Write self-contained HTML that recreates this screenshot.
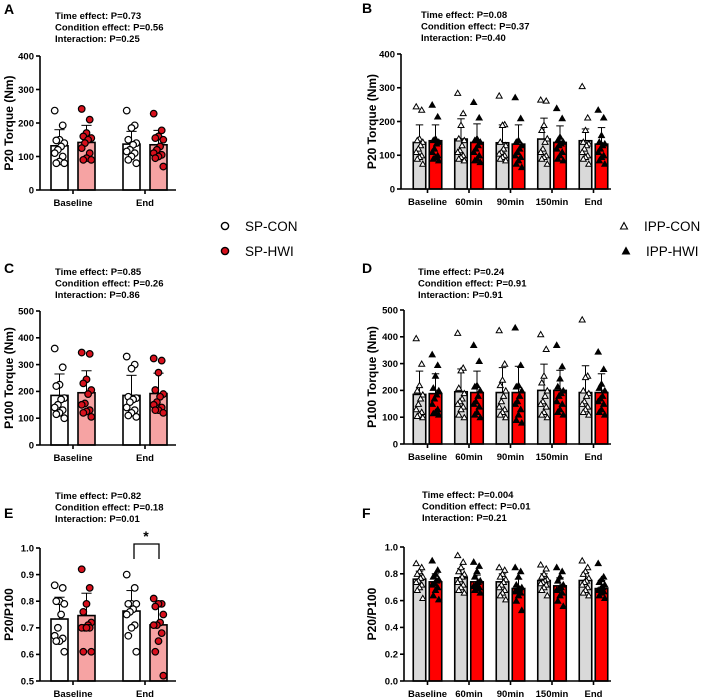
<!DOCTYPE html>
<html><head><meta charset="utf-8">
<style>
html,body{margin:0;padding:0;background:#fff;}
svg{display:block;font-family:"Liberation Sans",Arial,sans-serif;}
</style></head>
<body>
<svg id="fig" width="708" height="699" viewBox="0 0 708 699" xmlns="http://www.w3.org/2000/svg"></svg>
<script>
// ---------- DATA ----------
const catsSP = ["Baseline","End"];
const catsIPP = ["Baseline","60min","90min","150min","End"];

// Panel A: P20 torque, SP
const aMeansCon = [132,137];
const aSdCon = [48,38];
const aMeansHwi = [142,135];
const aSdHwi = [51,43];
const aPtsCon = [[237,193,150,148,140,130,120,110,100,85,80,80],[237,193,185,150,140,135,120,115,110,100,90,80]];
const aPtsHwi = [[242,210,170,160,155,150,140,125,110,95,90,90],[228,178,160,155,150,130,120,110,105,100,95,70]];

// Panel C: P100 torque, SP
const cMeansCon = [185,185];
const cSdCon = [80,75];
const cMeansHwi = [195,192];
const cSdHwi = [82,76];
const cPtsCon = [[360,290,225,220,175,170,150,140,130,120,115,100],[330,300,285,180,175,170,160,140,130,120,110,105]];
const cPtsHwi = [[345,340,245,230,205,190,155,150,130,125,120,105],[323,315,270,205,190,180,160,150,140,130,130,120]];

// Panel E: P20/P100, SP
const eMeansCon = [0.733,0.763];
const eSdCon = [0.082,0.077];
const eMeansHwi = [0.746,0.711];
const eSdHwi = [0.084,0.079];
const ePtsCon = [[0.86,0.85,0.80,0.80,0.79,0.75,0.70,0.67,0.66,0.65,0.65,0.61],[0.90,0.85,0.79,0.79,0.79,0.77,0.76,0.75,0.71,0.70,0.67,0.61]];
const ePtsHwi = [[0.92,0.85,0.79,0.76,0.72,0.71,0.70,0.70,0.70,0.70,0.61,0.61],[0.81,0.79,0.79,0.78,0.75,0.72,0.71,0.71,0.68,0.65,0.61,0.52]];

// Panel B: P20 torque, IPP
const bMeansCon = [138,148,137,148,143];
const bSdCon = [52,60,53,62,35];
const bMeansHwi = [143,138,133,138,133];
const bSdHwi = [47,55,57,49,49];
const bPtsCon = [[245,235,150,145,140,130,120,110,100,95,90,75],[285,225,190,150,145,130,115,110,100,95,90,85],[277,192,190,140,130,120,110,105,100,95,90,85],[265,262,190,175,150,140,120,110,100,95,90,75],[305,212,175,140,135,130,120,110,100,95,90,75]];
const bPtsHwi = [[250,215,150,145,140,135,120,110,100,95,90,85],[258,212,150,145,140,130,120,110,100,90,85,80],[272,210,145,140,130,120,110,100,95,85,75,65],[240,210,155,145,140,135,130,120,110,100,90,85],[235,212,160,140,135,130,120,110,100,95,85,75]];

// Panel D: P100 torque, IPP
const dMeansCon = [185,195,192,200,192];
const dSdCon = [87,85,93,98,100];
const dMeansHwi = [188,192,192,200,192];
const dSdHwi = [74,80,98,75,70];
const dPtsCon = [[395,300,220,200,185,170,150,130,120,110,105,100],[415,285,275,210,190,170,160,150,140,130,110,100],[425,300,240,220,200,180,160,140,130,120,110,100],[410,355,255,230,200,180,160,150,140,120,110,100],[465,255,250,200,190,180,160,150,140,130,120,110]];
const dPtsHwi = [[335,295,255,210,200,185,170,150,130,120,115,110],[370,310,220,215,200,180,160,150,140,120,110,100],[435,295,220,215,200,180,160,150,130,110,90,80],[370,290,245,215,200,190,180,160,150,130,120,110],[345,280,225,210,200,180,170,160,150,130,120,110]];

// Panel F: P20/P100, IPP
const fMeansCon = [0.76,0.77,0.74,0.75,0.75];
const fSdCon = [0.06,0.07,0.06,0.05,0.06];
const fMeansHwi = [0.74,0.74,0.69,0.71,0.69];
const fSdHwi = [0.06,0.05,0.07,0.06,0.06];
const fPtsCon = [[0.88,0.85,0.82,0.80,0.78,0.77,0.75,0.74,0.72,0.70,0.68,0.62],[0.94,0.89,0.85,0.82,0.80,0.78,0.76,0.74,0.72,0.70,0.68,0.66],[0.85,0.83,0.80,0.78,0.76,0.74,0.72,0.70,0.68,0.66,0.64,0.61],[0.87,0.84,0.80,0.78,0.76,0.75,0.74,0.73,0.72,0.70,0.68,0.64],[0.90,0.85,0.82,0.80,0.77,0.75,0.74,0.72,0.70,0.68,0.66,0.64]];
const fPtsHwi = [[0.90,0.83,0.80,0.78,0.76,0.75,0.73,0.72,0.70,0.68,0.64,0.61],[0.89,0.86,0.82,0.78,0.75,0.74,0.72,0.71,0.70,0.69,0.68,0.66],[0.85,0.82,0.78,0.72,0.70,0.69,0.68,0.67,0.66,0.64,0.60,0.53],[0.85,0.82,0.78,0.75,0.72,0.70,0.69,0.68,0.66,0.64,0.60,0.56],[0.88,0.78,0.76,0.74,0.72,0.70,0.69,0.68,0.67,0.66,0.64,0.62]];

const ticksA = [0,100,200,300,400];
const ticksC = [0,100,200,300,400,500];
const ticksE = [0.5,0.6,0.7,0.8,0.9,1.0];
const ticksF = [0.0,0.2,0.4,0.6,0.8,1.0];

// ---------- DRAWING ----------
const NS = "http://www.w3.org/2000/svg";
const svg = document.getElementById("fig");
function mk(tag, attrs, parent){
  const e = document.createElementNS(NS, tag);
  for (const k in attrs) e.setAttribute(k, attrs[k]);
  (parent||svg).appendChild(e);
  return e;
}
function txt(s, x, y, attrs, parent){
  const e = mk("text", Object.assign({x:x,y:y}, attrs), parent);
  e.textContent = s;
  return e;
}

function drawPanel(o){
  const g = mk("g", {});
  
  
  const yS = v => o.yBot - (v - o.vmin) / (o.vmax - o.vmin) * (o.yBot - o.yTop);
  const xC = i => o.c0 + i * o.step;
  // letter
  const L = txt(o.id.toUpperCase(), o.lx, o.ly, {"font-size":14,"font-weight":"bold"}, g);
  
  
  // stats text
  o.stats.forEach((s, k) => {
    const t = txt(s, o.tx, o.ty + k * 11.5, {"font-size":9.5,"font-weight":"bold"}, g);
    
    
  });
  // bars
  o.cats.forEach((c, i) => {
    [[o.mCon, o.sdCon, o.pCon, -1, o.fillCon, 'con'], [o.mHwi, o.sdHwi, o.pHwi, 1, o.fillHwi, 'hwi']].forEach(([m, sd, pts, side, fill, nm]) => {
      const cx = xC(i) + side * o.off;
      const top = yS(m[i]);
      // error bar
      const eb = mk("line", {x1:cx, x2:cx, y1:top, y2:yS(m[i] + sd[i]), stroke:"#000", "stroke-width":1}, g);
      
      
      const ec = mk("line", {x1:cx - o.bw * 0.3, x2:cx + o.bw * 0.3, y1:yS(m[i] + sd[i]), y2:yS(m[i] + sd[i]), stroke:"#000", "stroke-width":1}, g);
      
      
      const r = mk("rect", {x:cx - o.bw / 2, y:top, width:o.bw, height:o.yBot - top, fill:fill, stroke:"#000", "stroke-width":1.6}, g);
      
      
      // points
      pts[i].forEach((v, k) => {
        const jx = cx + (((k * 5) % 7) - 3) * o.jit;
        const y = yS(v);
        let p;
        if (o.shape === "circle") {
          p = mk("circle", {cx:jx, cy:y, r:3.3, fill: nm === 'con' ? "#fff" : "#d7101c", stroke:"#000", "stroke-width":1.2}, g);
        } else {
          const h = 5.2, w = 3;
          p = mk("polygon", {points:`${jx},${y - h/2} ${jx - w},${y + h/2} ${jx + w},${y + h/2}`, fill: nm === 'con' ? "#fff" : "#000", stroke:"#000", "stroke-width":1}, g);
        }
        
        
      });
    });
    // x tick + label
    const tk = mk("line", {x1:xC(i), x2:xC(i), y1:o.yBot, y2:o.yBot + 4, stroke:"#000", "stroke-width":1.6}, g);
    
    
    const tl = txt(c, xC(i), o.yBot + 16, {"font-size":9.5,"font-weight":"bold","text-anchor":"middle"}, g);
    
    
  });
  // axes
  const ya = mk("line", {x1:o.ax, x2:o.ax, y1:o.yTop, y2:o.yBot, stroke:"#000", "stroke-width":1.6}, g);
  
  
  const xa = mk("line", {x1:o.ax, x2:o.axEnd, y1:o.yBot, y2:o.yBot, stroke:"#000", "stroke-width":1.6}, g);
  
  
  o.ticks.forEach(v => {
    const y = yS(v);
    const t = mk("line", {x1:o.ax - 4, x2:o.ax, y1:y, y2:y, stroke:"#000", "stroke-width":1.6}, g);
    
    
    const l = txt(o.fmt(v), o.ax - 6, y + 3.3, {"font-size":9.5,"font-weight":"bold","text-anchor":"end"}, g);
    
    
  });
  const yt = txt(o.ytitle, 0, 0, {"font-size":12,"font-weight":"bold","text-anchor":"middle", transform:`translate(${o.ytx},${(o.yTop + o.yBot)/2}) rotate(-90)`}, g);
  
  
  return {g, yS, xC};
}

const f0 = v => String(v);
const f1 = v => v.toFixed(1);

const spBase = {cats:catsSP, c0:73, step:72, off:13.5, bw:17, jit:1.6, shape:"circle", fillCon:"#fff", fillHwi:"#f6a3a3", ax:40, axEnd:176, lx:4, tx:55};
const ippBase = {cats:catsIPP, c0:427.5, step:41.5, off:8, bw:12.5, jit:1.1, shape:"tri", fillCon:"#d9d9d9", fillHwi:"#ff0000", axEnd:611, lx:362};

drawPanel(Object.assign({}, spBase, {id:"a", ly:14, ty:19, yTop:56, yBot:190, vmin:0, vmax:400, ticks:ticksA, fmt:f0, ytitle:"P20 Torque (Nm)", ytx:13,
  mCon:aMeansCon, sdCon:aSdCon, mHwi:aMeansHwi, sdHwi:aSdHwi, pCon:aPtsCon, pHwi:aPtsHwi,
  stats:["Time effect: P=0.73","Condition effect: P=0.56","Interaction: P=0.25"]}));
drawPanel(Object.assign({}, spBase, {id:"c", ly:273, ty:275, yTop:311, yBot:445, vmin:0, vmax:500, ticks:ticksC, fmt:f0, ytitle:"P100 Torque (Nm)", ytx:13,
  mCon:cMeansCon, sdCon:cSdCon, mHwi:cMeansHwi, sdHwi:cSdHwi, pCon:cPtsCon, pHwi:cPtsHwi,
  stats:["Time effect: P=0.85","Condition effect: P=0.26","Interaction: P=0.86"]}));
const E = drawPanel(Object.assign({}, spBase, {id:"e", ly:518, ty:499, yTop:548, yBot:681, vmin:0.5, vmax:1.0, ticks:ticksE, fmt:f1, ytitle:"P20/P100", ytx:13,
  mCon:eMeansCon, sdCon:eSdCon, mHwi:eMeansHwi, sdHwi:eSdHwi, pCon:ePtsCon, pHwi:ePtsHwi,
  stats:["Time effect: P=0.82","Condition effect: P=0.18","Interaction: P=0.01"]}));
// significance bracket on E
const br = mk("polyline", {points:`134,559 134,544 159,544 159,559`, fill:"none", stroke:"#000", "stroke-width":1.3});


const st = txt("*", 146, 541, {"font-size":14,"font-weight":"bold","text-anchor":"middle"});



drawPanel(Object.assign({}, ippBase, {id:"b", ax:401, ly:13, tx:421, ty:18, yTop:54, yBot:189, vmin:0, vmax:400, ticks:ticksA, fmt:f0, ytitle:"P20 Torque (Nm)", ytx:376,
  mCon:bMeansCon, sdCon:bSdCon, mHwi:bMeansHwi, sdHwi:bSdHwi, pCon:bPtsCon, pHwi:bPtsHwi,
  stats:["Time effect: P=0.08","Condition effect: P=0.37","Interaction: P=0.40"]}));
drawPanel(Object.assign({}, ippBase, {id:"d", ax:404, ly:273, tx:418, ty:275, yTop:310, yBot:444, vmin:0, vmax:500, ticks:ticksC, fmt:f0, ytitle:"P100 Torque (Nm)", ytx:376,
  mCon:dMeansCon, sdCon:dSdCon, mHwi:dMeansHwi, sdHwi:dSdHwi, pCon:dPtsCon, pHwi:dPtsHwi,
  stats:["Time effect: P=0.24","Condition effect: P=0.91","Interaction: P=0.91"]}));
drawPanel(Object.assign({}, ippBase, {id:"f", ax:404, ly:518, tx:422, ty:498, yTop:547, yBot:681, vmin:0, vmax:1.0, ticks:ticksF, fmt:f1, ytitle:"P20/P100", ytx:376,
  mCon:fMeansCon, sdCon:fSdCon, mHwi:fMeansHwi, sdHwi:fSdHwi, pCon:fPtsCon, pHwi:fPtsHwi,
  stats:["Time effect: P=0.004","Condition effect: P=0.01","Interaction: P=0.21"]}));

// ---------- LEGENDS ----------
function legend(name, shape, fill, x, y, label){
  const g = mk("g", {});
  
  
  if (shape === "circle") mk("circle", {cx:x, cy:y, r:3.6, fill:fill, stroke:"#000", "stroke-width":1.4}, g);
  else mk("polygon", {points:`${x},${y-3.5} ${x-3.5},${y+3} ${x+3.5},${y+3}`, fill:fill, stroke:"#000", "stroke-width":1.1}, g);
  txt(label, x + 20, y + 5, {"font-size":13.5}, g);
}
legend("legend-sp-con", "circle", "#fff", 225, 226, "SP-CON");
legend("legend-sp-hwi", "circle", "#d7101c", 225, 251, "SP-HWI");
legend("legend-ipp-con", "tri", "#fff", 624, 226, "IPP-CON");
legend("legend-ipp-hwi", "tri", "#000", 626, 251, "IPP-HWI");
</script>
</body></html>
